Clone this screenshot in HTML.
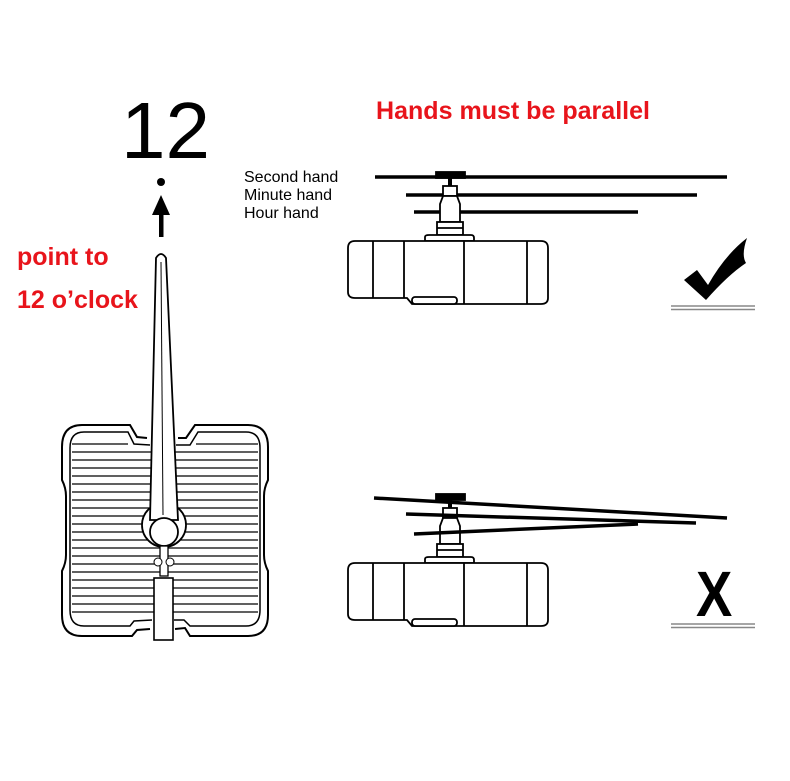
<!DOCTYPE html>
<html><head><meta charset="utf-8"><style>
html,body{margin:0;padding:0;background:#fff;}
svg{display:block}
</style></head><body>
<svg width="790" height="781" viewBox="0 0 790 781" xmlns="http://www.w3.org/2000/svg">
<rect width="790" height="781" fill="#fff"/>
<!-- 12 -->
<text x="121" y="158" font-family="Liberation Sans, sans-serif" font-size="80" fill="#000">12</text>
<circle cx="161" cy="182" r="4" fill="#000"/>
<polygon points="161,195 152,215 170,215" fill="#000"/>
<rect x="159" y="212" width="4.5" height="25" fill="#000"/>
<text x="17" y="265" font-family="Liberation Sans, sans-serif" font-weight="bold" font-size="25" fill="#e8141b">point to</text>
<text x="17" y="308" font-family="Liberation Sans, sans-serif" font-weight="bold" font-size="25" fill="#e8141b">12 o’clock</text>
<text x="376" y="119" font-family="Liberation Sans, sans-serif" font-weight="bold" font-size="25" fill="#e8141b" textLength="274" lengthAdjust="spacingAndGlyphs">Hands must be parallel</text>

<!-- clock square -->
<g fill="none" stroke="#000" stroke-width="2">
<path d="M150,629 L137,630 L132,636 L82,636 Q62,636 62,615 L62,571 Q66,563 66,555 L66,496 Q66,488 62,480 L62,447 Q62,425 82,425 L130,425 L137,437 L147,438"/>
<path d="M178,438 L186,438 L195,425 L248,425 Q268,425 268,447 L268,480 Q264,488 264,496 L264,555 Q264,563 268,571 L268,615 Q268,636 248,636 L190,636 L185,628 L175,629"/>
<path d="M152,620 L134,621 L130,626 L84,626 Q70,626 70,610 L70,448 Q70,432 84,432 L128,432 L134,444 L150,445" stroke-width="1.5"/>
<path d="M176,445 L190,445 L198,432 L246,432 Q260,432 260,448 L260,610 Q260,626 246,626 L190,626 L184,620 L174,620" stroke-width="1.5"/>
</g>
<g stroke="#000" stroke-width="1.3">
<line x1="72" y1="452" x2="258" y2="452"/><line x1="72" y1="460" x2="258" y2="460"/>
<line x1="72" y1="468" x2="258" y2="468"/><line x1="72" y1="476" x2="258" y2="476"/>
<line x1="72" y1="484" x2="258" y2="484"/><line x1="72" y1="492" x2="258" y2="492"/>
<line x1="72" y1="500" x2="258" y2="500"/><line x1="72" y1="508" x2="258" y2="508"/>
<line x1="72" y1="516" x2="258" y2="516"/><line x1="72" y1="524" x2="258" y2="524"/>
<line x1="72" y1="532" x2="258" y2="532"/><line x1="72" y1="540" x2="258" y2="540"/>
<line x1="72" y1="548" x2="258" y2="548"/><line x1="72" y1="556" x2="258" y2="556"/>
<line x1="72" y1="564" x2="258" y2="564"/><line x1="72" y1="572" x2="258" y2="572"/>
<line x1="72" y1="580" x2="258" y2="580"/><line x1="72" y1="588" x2="258" y2="588"/>
<line x1="72" y1="596" x2="258" y2="596"/><line x1="72" y1="604" x2="258" y2="604"/>
<line x1="72" y1="612" x2="258" y2="612"/>
<line x1="72" y1="444" x2="128" y2="444"/><line x1="196" y1="444" x2="258" y2="444"/>
</g>
<!-- hand -->
<circle cx="164" cy="525" r="22" fill="#fff" stroke="#000" stroke-width="1.8"/>
<path d="M156,258 Q161,250 166,258 L178,520 L150,520 Z" fill="#fff" stroke="#000" stroke-width="1.8"/>
<line x1="161" y1="262" x2="163" y2="515" stroke="#000" stroke-width="1"/>
<circle cx="164" cy="532" r="14" fill="#fff" stroke="#000" stroke-width="1.8"/>
<rect x="160" y="546" width="8" height="30" fill="#fff" stroke="#000" stroke-width="1.3"/>
<circle cx="158" cy="562" r="4" fill="#fff" stroke="#000" stroke-width="1"/>
<circle cx="170" cy="562" r="4" fill="#fff" stroke="#000" stroke-width="1"/>
<rect x="154" y="578" width="19" height="62" fill="#fff" stroke="#000" stroke-width="1.6"/>

<!-- labels -->
<g font-family="Liberation Sans, sans-serif" font-size="16" fill="#000">
<text x="244" y="182">Second hand</text>
<text x="244" y="200">Minute hand</text>
<text x="244" y="218">Hour hand</text>
</g>

<!-- top movement -->
<g stroke="#000" stroke-width="3.5">
<line x1="375" y1="177" x2="727" y2="177"/>
<line x1="406" y1="195" x2="697" y2="195"/>
<line x1="414" y1="212" x2="638" y2="212"/>
</g>
<g id="mv" fill="#fff" stroke="#000" stroke-width="1.8">
<rect x="436" y="172" width="29" height="6" fill="#000"/>
<rect x="448" y="178" width="4" height="8" fill="#000" stroke="none"/>
<rect x="443" y="186" width="14" height="10"/>
<path d="M443,196 L457,196 L460,204 L460,222 L440,222 L440,204 Z"/>
<rect x="437" y="222" width="26" height="13"/>
<line x1="437" y1="228" x2="463" y2="228"/>
<path d="M425,241 L425,237 Q425,235 429,235 L471,235 Q474,235 474,238 L474,241 Z"/>
<path d="M355,241 L541,241 Q548,241 548,248 L548,298 Q548,304 541,304 L412,304 L407,298 L355,298 Q348,298 348,292 L348,248 Q348,241 355,241 Z"/>
<line x1="373" y1="241" x2="373" y2="298"/>
<line x1="404" y1="241" x2="404" y2="298"/>
<line x1="464" y1="241" x2="464" y2="304"/>
<line x1="527" y1="241" x2="527" y2="304"/>
<rect x="412" y="297" width="45" height="7" rx="3"/>
</g>
<!-- check -->
<path d="M684,280 L697,270 L708,285 Q725,255 747,238 Q741,255 746,263 Q728,275 706,300 Z" fill="#000"/>
<line x1="671" y1="306" x2="755" y2="306" stroke="#888" stroke-width="1.5"/>
<line x1="671" y1="309.5" x2="755" y2="309.5" stroke="#888" stroke-width="1.5"/>

<!-- bottom movement -->
<g transform="translate(0,322)">
<use href="#mv"/>
</g>
<g stroke="#000" stroke-width="3.5">
<line x1="374" y1="498" x2="727" y2="518"/>
<line x1="406" y1="514" x2="696" y2="523"/>
<line x1="414" y1="534" x2="638" y2="524"/>
</g>
<text x="0" y="0" font-family="Liberation Sans, sans-serif" font-weight="bold" font-size="64" fill="#000" transform="translate(696,616) scale(0.85,1)">X</text>
<line x1="671" y1="624" x2="755" y2="624" stroke="#888" stroke-width="1.5"/>
<line x1="671" y1="627.5" x2="755" y2="627.5" stroke="#888" stroke-width="1.5"/>
</svg>
</body></html>
